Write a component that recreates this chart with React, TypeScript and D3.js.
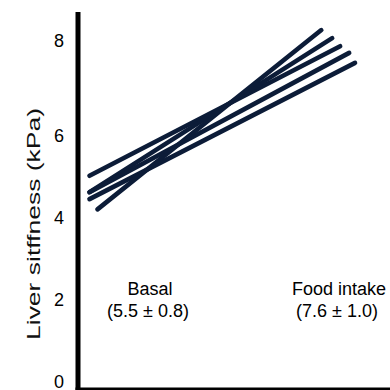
import React from "react";
import * as d3 from "d3";

const categories = ["Basal", "Food intake"];
const summaries = ["(5.5 ± 0.8)", "(7.6 ± 1.0)"];
// liver stiffness per subject (kPa)
const basal = [5.03, 4.63, 4.63, 4.46, 4.21];
const food = [7.89, 8.06, 7.75, 7.54, 8.23];
// relative horizontal position of each segment's ends (0 = basal, 1 = food intake)
const basalPos = [0, 0, 0, 0, 0.03];
const foodPos = [0.944, 0.914, 0.978, 1.0, 0.873];
const yTicks = [0, 2, 4, 6, 8];
const yLabel = "Liver sitffness (kPa)";

const W = 390;
const H = 390;
const FONT = "'Liberation Sans', Arial, Helvetica, sans-serif";
const LINE_COLOR = "#0c1c38";

export default function App() {
  const y = d3.scaleLinear().domain([0, 2, 4, 6, 8]).range([382, 300, 218, 136, 41]);
  const x = d3.scaleLinear().domain([0, 1]).range([89.5, 355]);
  const cx = d3.scalePoint<string>().domain(categories).range([150, 339]);
  const line = d3.line<[number, number]>().x((d) => x(d[0])).y((d) => y(d[1]));

  const axisX = 78;
  return (
    <svg
      width={W}
      height={H}
      style={{ position: "absolute", left: 0, top: 0, background: "#fff" }}
      fontFamily={FONT}
    >
      {basal.map((b, i) => (
        <path
          key={i}
          d={line([
            [basalPos[i], b],
            [foodPos[i], food[i]],
          ]) || ""}
          stroke={LINE_COLOR}
          strokeWidth={4.6}
          strokeLinecap="round"
          fill="none"
        />
      ))}
      <line x1={axisX} x2={axisX} y1={y(8.61)} y2={H + 2} stroke="#000" strokeWidth={5} />
      <line x1={axisX - 2.5} x2={W + 2} y1={389.5} y2={389.5} stroke="#000" strokeWidth={4} />
      {yTicks.map((t) => (
        <text key={t} x={64} y={y(t)} dy="0.35em" textAnchor="end" fontSize={18} fill="#000">
          {t}
        </text>
      ))}
      <text
        transform={`translate(39.5, 224) rotate(-90)`}
        textAnchor="middle"
        fontSize={17.5}
        textLength={232}
        lengthAdjust="spacingAndGlyphs"
        fill="#111"
      >
        {yLabel}
      </text>
      {categories.map((c, i) => (
        <g key={c}>
          <text x={cx(c)} y={295} textAnchor="middle" fontSize={18} fill="#000">
            {c}
          </text>
          <text x={(cx(c) || 0) - 2} y={316.7} textAnchor="middle" fontSize={18} fill="#000">
            {summaries[i]}
          </text>
        </g>
      ))}
    </svg>
  );
}
